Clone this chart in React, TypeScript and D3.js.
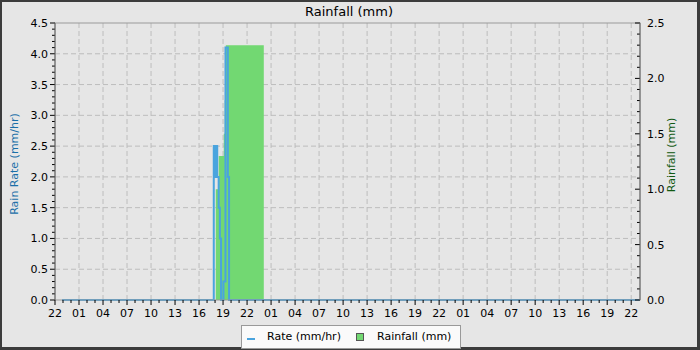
import React, { useEffect, useRef } from 'react';
import * as d3 from 'd3';

// hours counted from 22:00 on the first day
const rateHours = [0.875, 19.84, 20.02, 20.14, 20.27, 20.45, 20.6, 20.75, 21.05, 21.3, 21.6, 21.75, 73.05];
const rateValues = [0, 2.5, 2.0, 2.5, 2.0, 1.5, 1.0, 0, 0.3, 4.1, 2.0, 0, 0];

const rainHours = [20.09, 20.46, 21.09, 21.21, 21.34, 26.09];
const rainTotals = [1.0, 1.3, 1.5, 1.8, 2.3, 0];

const rateTicks = [0, 0.5, 1, 1.5, 2, 2.5, 3, 3.5, 4, 4.5];
const rainTicks = [0, 0.5, 1, 1.5, 2, 2.5];

const W = 700;
const H = 350;
const margin = { top: 23, right: 60, bottom: 50, left: 55 };
const FONT = 'DejaVu Sans, sans-serif';
const BLUE = '#4aa4de';
const GREEN = '#72d872';

const App: React.FC = () => {
  const svgRef = useRef<SVGSVGElement>(null);

  useEffect(() => {
    if (!svgRef.current) return;
    d3.select(svgRef.current).selectAll('*').remove();
    const svg = d3.select(svgRef.current);

    const x = d3.scaleLinear().domain([0, 73.1]).range([margin.left, W - margin.right]);
    const yRate = d3.scaleLinear().domain([0, 4.5]).range([H - margin.bottom, margin.top]);
    const yRain = d3.scaleLinear().domain([0, 2.5]).range([H - margin.bottom, margin.top]);
    const x0 = margin.left;
    const x1 = W - margin.right;
    const yb = H - margin.bottom;

    // frame
    svg.append('rect').attr('width', W).attr('height', H).attr('fill', '#3c3c3c');
    svg.append('rect').attr('x', 2).attr('y', 2).attr('width', W - 5).attr('height', H - 5).attr('fill', '#e6e6e6');

    // grid
    const hours = d3.range(0, 73, 1);
    const majorHours = hours.filter(h => h % 3 === 0);
    svg.append('g')
      .selectAll('line')
      .data(majorHours.filter(h => h > 0))
      .enter()
      .append('line')
      .attr('x1', d => x(d)).attr('x2', d => x(d))
      .attr('y1', margin.top).attr('y2', yb)
      .attr('stroke', '#bdbdbd').attr('stroke-dasharray', '5,3');
    svg.append('g')
      .selectAll('line')
      .data(rateTicks.filter(v => v > 0 && v < 4.5))
      .enter()
      .append('line')
      .attr('x1', x0).attr('x2', x1)
      .attr('y1', d => yRate(d)).attr('y2', d => yRate(d))
      .attr('stroke', '#bdbdbd').attr('stroke-dasharray', '5,3');

    // rainfall area
    const rainData = rainHours.map((h, i) => ({ h, v: rainTotals[i] }));
    const area = d3.area<{ h: number; v: number }>()
      .x(d => x(d.h))
      .y0(yRain(0))
      .y1(d => yRain(d.v))
      .curve(d3.curveStepAfter);
    svg.append('path').datum(rainData).attr('d', area).attr('fill', GREEN);

    // rate line
    const rateData = rateHours.map((h, i) => ({ h, v: rateValues[i] }));
    const line = d3.line<{ h: number; v: number }>()
      .x(d => x(d.h))
      .y(d => yRate(d.v))
      .curve(d3.curveStepAfter);
    svg.append('path').datum(rateData).attr('d', line)
      .attr('fill', 'none').attr('stroke', BLUE).attr('stroke-width', 2);

    // plot border
    svg.append('rect').attr('x', x0).attr('y', margin.top)
      .attr('width', x1 - x0).attr('height', yb - margin.top)
      .attr('fill', 'none').attr('stroke', '#999');

    // left axis
    const minorRate = d3.range(0, 46).map(i => i / 10);
    const left = svg.append('g').attr('transform', `translate(${x0},0)`);
    left.selectAll('line.minor').data(minorRate).enter().append('line')
      .attr('x1', d => (Math.round(d * 10) % 5 === 0 ? -5 : -3)).attr('x2', 0)
      .attr('y1', d => yRate(d)).attr('y2', d => yRate(d))
      .attr('stroke', '#000');
    left.selectAll('text').data(rateTicks).enter().append('text')
      .attr('x', -7).attr('y', d => yRate(d) + 4)
      .attr('text-anchor', 'end').style('font', `11px ${FONT}`)
      .text(d => d.toFixed(1));
    left.append('line').attr('y1', margin.top).attr('y2', yb).attr('stroke', '#666');

    // right axis
    const minorRain = d3.range(0, 26).map(i => i / 10);
    const right = svg.append('g').attr('transform', `translate(${x1},0)`);
    right.selectAll('line').data(minorRain).enter().append('line')
      .attr('x1', d => (Math.round(d * 10) % 5 === 0 ? -5 : -3)).attr('x2', 0)
      .attr('y1', d => yRain(d)).attr('y2', d => yRain(d))
      .attr('stroke', '#000');
    right.selectAll('text').data(rainTicks).enter().append('text')
      .attr('x', 7).attr('y', d => yRain(d) + 4)
      .style('font', `11px ${FONT}`)
      .text(d => d.toFixed(1));
    right.append('line').attr('y1', margin.top).attr('y2', yb).attr('stroke', '#666');

    // bottom axis
    const bottom = svg.append('g').attr('transform', `translate(0,${yb})`);
    bottom.selectAll('line').data(hours).enter().append('line')
      .attr('x1', d => x(d)).attr('x2', d => x(d))
      .attr('y1', 0).attr('y2', d => (d % 3 === 0 ? 5 : 3))
      .attr('stroke', '#000');
    bottom.selectAll('text').data(majorHours).enter().append('text')
      .attr('x', d => x(d)).attr('y', 17)
      .attr('text-anchor', 'middle').style('font', `11px ${FONT}`)
      .text(d => String((22 + d) % 24).padStart(2, '0'));

    // title and axis labels
    svg.append('text').attr('x', 349).attr('y', 16).attr('text-anchor', 'middle')
      .style('font', `13px ${FONT}`).text('Rainfall (mm)');
    svg.append('text').attr('transform', `translate(18,164) rotate(-90)`)
      .attr('text-anchor', 'middle').style('font', `11px ${FONT}`)
      .attr('fill', '#1a6fa8').text('Rain Rate (mm/hr)');
    svg.append('text').attr('transform', `translate(675,155) rotate(-90)`)
      .attr('text-anchor', 'middle').style('font', `11px ${FONT}`)
      .attr('fill', '#125a12').text('Rainfall (mm)');

    // legend
    const legend = svg.append('g').attr('transform', 'translate(241,325)');
    legend.append('rect').attr('x', 0.5).attr('y', 0.5).attr('width', 219).attr('height', 23)
      .attr('fill', '#fafafa').attr('stroke', '#999');
    legend.append('line').attr('x1', 6).attr('x2', 14).attr('y1', 14).attr('y2', 14)
      .attr('stroke', BLUE).attr('stroke-width', 2);
    legend.append('text').attr('x', 26).attr('y', 15).style('font', `11px ${FONT}`).text('Rate (mm/hr)');
    legend.append('rect').attr('x', 115.5).attr('y', 8.5).attr('width', 7).attr('height', 7)
      .attr('fill', GREEN).attr('stroke', '#555');
    legend.append('text').attr('x', 136).attr('y', 15).style('font', `11px ${FONT}`).text('Rainfall (mm)');
  }, []);

  return (
    <svg ref={svgRef} width={W} height={H} style={{ position: 'absolute', left: 0, top: 0 }}></svg>
  );
};

export default App;
